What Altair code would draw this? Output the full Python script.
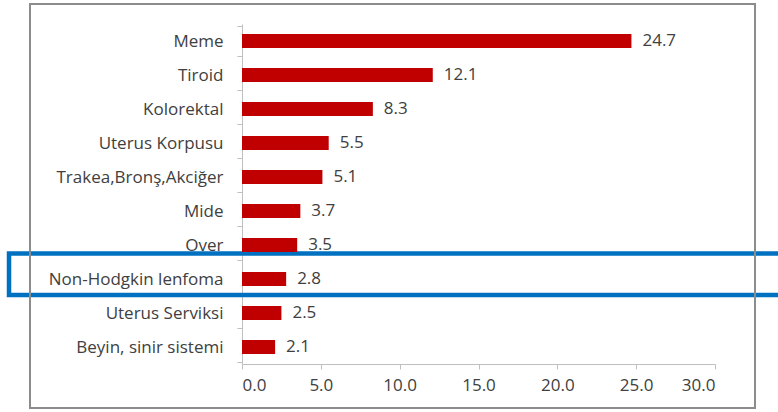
import altair as alt
import pandas as pd

categories = ["Meme", "Tiroid", "Kolorektal", "Uterus Korpusu", "Trakea,Bronş,Akciğer",
              "Mide", "Over", "Non-Hodgkin lenfoma", "Uterus Serviksi", "Beyin, sinir sistemi"]
values = [24.7, 12.1, 8.3, 5.5, 5.1, 3.7, 3.5, 2.8, 2.5, 2.1]
x_ticks = [0, 5, 10, 15, 20, 25, 30]

df = pd.DataFrame({"cat": categories, "val": values})

FONT = "Open Sans"
TEXT = "#404040"

base = alt.Chart(df)

bars = base.mark_bar(size=14, color="#C00000").encode(
    x=alt.X("val:Q", scale=alt.Scale(domain=[0, 30], nice=False),
            axis=alt.Axis(values=x_ticks, format=".1f", title=None, grid=False,
                          labelFont=FONT, labelFontSize=17, labelColor=TEXT,
                          domainColor="#BFBFBF", tickColor="#BFBFBF", tickSize=5,
                          labelPadding=8)),
    y=alt.Y("cat:N", sort=categories,
            axis=alt.Axis(title=None, labelFont=FONT, labelFontSize=17, labelColor=TEXT,
                          domainColor="#BFBFBF", tickColor="#BFBFBF", tickSize=5,
                          tickBand="extent", labelPadding=14)),
)

labels = base.mark_text(align="left", baseline="middle", dx=11, font=FONT,
                        fontSize=17, color=TEXT).encode(
    x="val:Q",
    y=alt.Y("cat:N", sort=categories),
    text=alt.Text("val:Q", format=".1f"),
)

one = alt.Data(values=[{"k": 1}])

frame = alt.Chart(one).mark_rect(fill="transparent", stroke="#8C8C8C", strokeWidth=2).encode(
    x=alt.value(-212), x2=alt.value(513), y=alt.value(-20), y2=alt.value(384)
)

highlight = alt.Chart(one).mark_rect(fill="transparent", stroke="#0070C0", strokeWidth=4.5).encode(
    x=alt.value(-233), x2=alt.value(560), y=alt.value(229.5), y2=alt.value(271)
)

chart = alt.layer(highlight, frame, bars, labels).properties(
    width=473, height=340,
    autosize=alt.AutoSizeParams(type="none"),
    padding={"left": 242, "top": 24, "right": 63, "bottom": 48},
    background="white",
).configure_view(stroke=None)

chart.save("out.html", embed_options={"renderer": "svg", "actions": False})
